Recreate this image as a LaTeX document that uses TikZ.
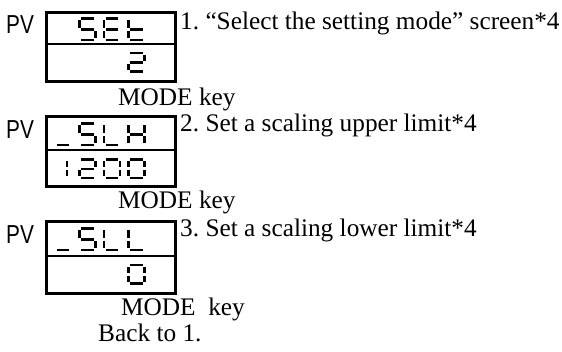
\documentclass[tikz,border=0pt]{standalone}
\usepackage{fontspec}
\setmainfont{Liberation Serif}
\newfontfamily\pvfont{Liberation Sans}
\frenchspacing
\tikzset{
  segline/.style={line width=2.5pt, line cap=butt},
  boxline/.style={line width=3.4pt},
  midline/.style={line width=1.4pt},
  txt/.style={inner sep=0pt, anchor=base west, font=\fontsize{25.3}{30}\selectfont},
  pvtxt/.style={inner sep=0pt, anchor=base west, font=\pvfont\fontsize{26}{30}\selectfont, xscale=0.8},
}
\newcommand\sdw{16}
\newcommand\sgp{1.7}
\newcommand\SSa{\draw[segline] (\sgp,0) -- (\sdw-\sgp,0);}
\newcommand\SSb{\draw[segline] (\sdw,\sgp) -- (\sdw,\dh/2-\sgp);}
\newcommand\SSc{\draw[segline] (\sdw,\dh/2+\sgp) -- (\sdw,\dh-\sgp);}
\newcommand\SSd{\draw[segline] (\sgp,\dh) -- (\sdw-\sgp,\dh);}
\newcommand\SSe{\draw[segline] (0,\dh/2+\sgp) -- (0,\dh-\sgp);}
\newcommand\SSf{\draw[segline] (0,\sgp) -- (0,\dh/2-\sgp);}
\newcommand\SSg{\draw[segline] (\sgp,\dh/2) -- (\sdw-\sgp,\dh/2);}
% digit: cell index, top y, height, segments
\newcommand\ssd[4]{\begin{scope}[shift={({55+24.5*#1},#2)}]\def\dh{#3}\foreach \s in {#4}{\csname SS\s\endcsname}\end{scope}}
\begin{document}
\begin{tikzpicture}[x=1pt,y=-1pt]
\useasboundingbox (0,0) rectangle (562,351);
% ---------- display 1
\node[pvtxt] (pv1) at (6,33) {PV};
\node[draw, boxline, minimum width=129pt, minimum height=69.5pt, inner sep=0pt, anchor=north west] (box1) at (44.5,10.5) {};
\draw[midline] (44.5,44) -- (173.5,44);
\ssd{1}{18.5}{21.5}{a,f,g,c,d}
\ssd{2}{18.5}{21.5}{a,f,g,e,d}
\ssd{3}{18.5}{21.5}{f,e,g,d}
\ssd{3}{53}{18.5}{a,b,g,e,d}
\node[txt] (l1) at (180,29) {1. “Select the setting mode” screen*4};
\node[txt] (m1) at (118,105) {MODE key};
% ---------- display 2
\node[pvtxt] (pv2) at (6,138) {PV};
\node[draw, boxline, minimum width=129pt, minimum height=70pt, inner sep=0pt, anchor=north west] (box2) at (44.5,115) {};
\draw[midline] (44.5,150) -- (173.5,150);
\ssd{0}{123.5}{21.5}{d}
\ssd{1}{123.5}{21.5}{a,f,g,c,d}
\ssd{2}{123.5}{21.5}{f,e,d}
\ssd{3}{123.5}{21.5}{f,e,b,c,g}
\ssd{-0.16}{159.5}{18.5}{b,c}
\ssd{1}{159.5}{18.5}{a,b,g,e,d}
\ssd{2}{159.5}{18.5}{a,b,c,d,e,f}
\ssd{3}{159.5}{18.5}{a,b,c,d,e,f}
\node[txt] (l2) at (180,131) {2. Set a scaling upper limit*4};
\node[txt] (m2) at (118,208) {MODE key};
% ---------- display 3
\node[pvtxt] (pv3) at (6,243) {PV};
\node[draw, boxline, minimum width=129pt, minimum height=72pt, inner sep=0pt, anchor=north west] (box3) at (44.5,220) {};
\draw[midline] (44.5,256) -- (173.5,256);
\ssd{0}{228.5}{21.5}{d}
\ssd{1}{228.5}{21.5}{a,f,g,c,d}
\ssd{2}{228.5}{21.5}{f,e,d}
\ssd{3}{228.5}{21.5}{f,e,d}
\ssd{3}{265}{18.5}{a,b,c,d,e,f}
\node[txt] (l3) at (180,236) {3. Set a scaling lower limit*4};
\node[txt] (m3) at (121,315) {MODE\ \ key};
\node[txt] (back) at (98,341) {Back to 1.};
\end{tikzpicture}
\end{document}
